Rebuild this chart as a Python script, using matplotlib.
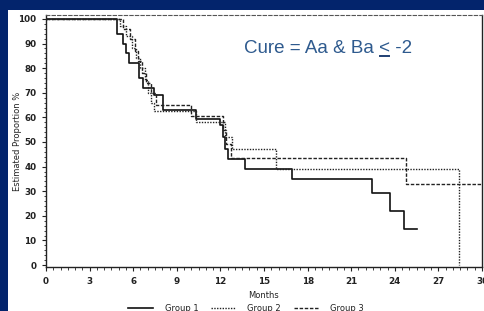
import matplotlib
matplotlib.use('Agg')
import matplotlib.pyplot as plt
from matplotlib.lines import Line2D
from matplotlib.patches import Rectangle
from matplotlib.ticker import MultipleLocator

# Kaplan-Meier steps (months, %)
g1_t = [0, 4.9, 5.3, 5.5, 5.7, 6.4, 6.7, 7.4, 8.05, 10.3, 12.0, 12.2, 12.3, 12.5, 13.7, 16.9, 22.4, 23.7, 24.6, 25.5]
g1_v = [100, 94, 90, 86, 82, 76, 72, 69, 63, 59.5, 57, 52, 47, 43, 39, 35, 29.3, 22, 14.6, 14.6]

g2_t = [0, 5.1, 5.5, 5.9, 6.2, 6.5, 6.8, 7.0, 7.2, 7.4, 10.3, 12.3, 12.8, 15.8, 28.4]
g2_v = [100, 97, 93, 88, 84, 80, 75, 70, 66, 62.5, 58, 52, 47, 39, 0]

g3_t = [0, 5.3, 5.8, 6.1, 6.3, 6.6, 6.9, 7.2, 7.6, 10.0, 12.2, 12.4, 12.7, 24.8, 30]
g3_v = [100, 96, 92, 87, 83, 78, 74, 70, 65, 60.5, 55, 49, 43.5, 33, 33]

groups = ['Group 1', 'Group 2', 'Group 3']
x_ticks = list(range(0, 31, 3))
y_ticks = list(range(0, 101, 10))

W, H = 485, 311
fig = plt.figure(figsize=(W / 100, H / 100), dpi=100)
fig.patch.set_facecolor('#03246c')
# white slide panel
fig.patches.append(Rectangle((8 / W, 0), 1, 1 - 10 / H, transform=fig.transFigure,
                             facecolor='white', edgecolor='none', zorder=-5))

ax = fig.add_axes([46 / W, 1 - 267 / H, 436 / W, 252 / H])
ax.set_zorder(2)
ax.set_facecolor('white')

ax.step(g1_t, g1_v, where='post', color='#111111', lw=1.2, ls='-')
ax.step(g2_t, g2_v, where='post', color='#222222', lw=1.0, ls=(0, (1, 1)))
ax.step(g3_t, g3_v, where='post', color='#222222', lw=1.0, ls=(0, (2.5, 1.2)))

ax.set_xlim(0, 30)
ax.set_ylim(-0.8, 101.6)
ax.set_xticks(x_ticks)
ax.set_yticks(y_ticks)
ax.xaxis.set_minor_locator(MultipleLocator(0.5))
ax.yaxis.set_minor_locator(MultipleLocator(2))
ax.tick_params(which='major', length=3, width=0.8, labelsize=6.3, pad=4, color='#222222')
ax.tick_params(which='minor', length=1.8, width=0.6, color='#222222')
for lab in ax.get_xticklabels() + ax.get_yticklabels():
    lab.set_fontweight('bold')
    lab.set_color('#222222')

for s in ['left', 'bottom', 'right']:
    ax.spines[s].set_linewidth(1.0)
    ax.spines[s].set_color('#222222')
ax.spines['top'].set_linestyle((0, (3, 2)))
ax.spines['top'].set_linewidth(0.8)
ax.spines['top'].set_color('#555555')

ax.set_xlabel('Months', fontsize=6, color='#222222')
ax.xaxis.set_label_coords(0.5, -(295 - 267) / 252)
ax.xaxis.label.set_va('center')
ax.set_ylabel('Estimated Proportion %', fontsize=6, color='#222222')
ax.yaxis.set_label_coords(-(46 - 18) / 436, 0.5)
ax.yaxis.label.set_va('center')

handles = [Line2D([], [], color='#111111', lw=1.2, ls='-'),
           Line2D([], [], color='#222222', lw=1.0, ls=(0, (1, 1))),
           Line2D([], [], color='#222222', lw=1.0, ls=(0, (2.5, 1.2)))]
fig.legend(handles, groups, loc='upper center', bbox_to_anchor=(246 / W, 1 - 300 / H),
           ncol=3, frameon=False, fontsize=6, handlelength=3, columnspacing=1.5,
           handletextpad=1.4, borderpad=0, labelcolor='#222222')

# annotation with underlined "<"
tfont = dict(family=['Liberation Sans', 'DejaVu Sans'], fontsize=13.5, color='#2e5a8e')
tx, ty = 244 / W, 1 - 53 / H
full = fig.text(tx, ty, 'Cure = Aa & Ba < -2', va='baseline', ha='left', **tfont)
pre = fig.text(tx, ty, 'Cure = Aa & Ba', va='baseline', ha='left', **tfont)
lt = fig.text(tx, ty, '<', va='baseline', ha='left', **tfont)
sp = fig.text(tx, ty, 'a a', va='baseline', ha='left', **tfont)
aa = fig.text(tx, ty, 'aa', va='baseline', ha='left', **tfont)
fig.canvas.draw()
r = fig.canvas.get_renderer()
space_w = sp.get_window_extent(r).width - aa.get_window_extent(r).width
x0 = pre.get_window_extent(r).x1 + space_w
lt_w = lt.get_window_extent(r).width
for t in (pre, lt, sp, aa):
    t.remove()
fig.add_artist(Line2D([(x0 + 0.5) / W, (x0 + lt_w - 0.5) / W], [ty - 3 / H, ty - 3 / H],
                      transform=fig.transFigure, color='#1f3f73', lw=1.4, zorder=5))

fig.savefig('out.png', dpi=100, facecolor=fig.get_facecolor())
